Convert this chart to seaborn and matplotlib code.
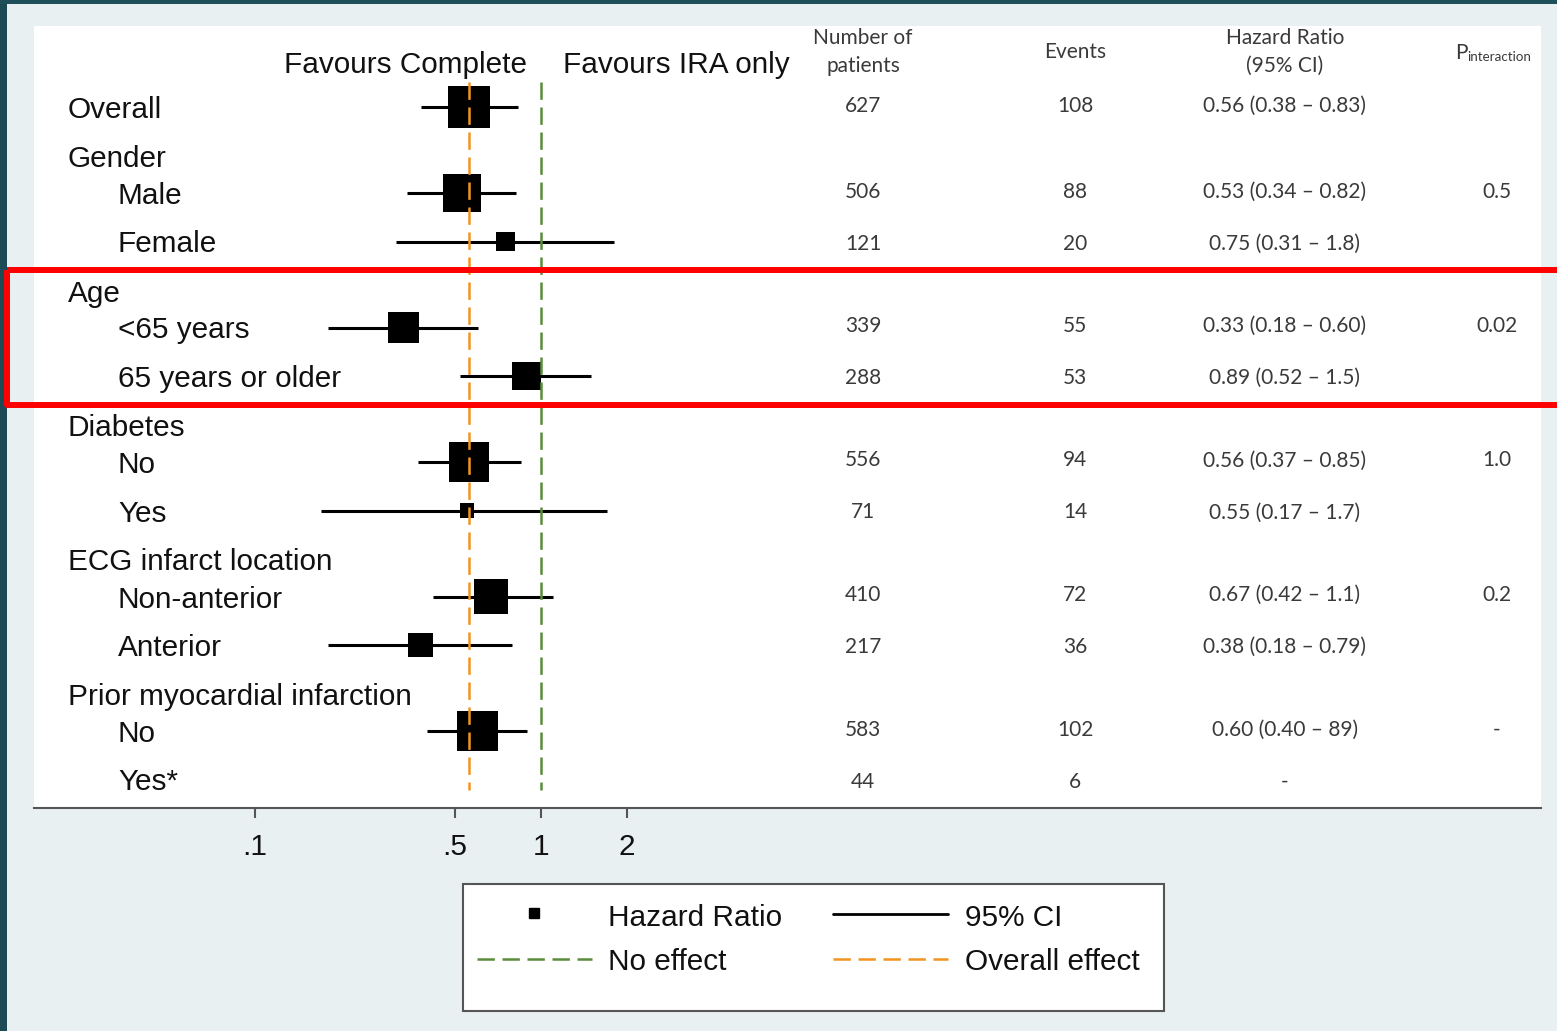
import numpy as np
import pandas as pd
import matplotlib
matplotlib.use("Agg")
import matplotlib.pyplot as plt
from matplotlib.patches import Rectangle
from matplotlib.ticker import NullLocator
import seaborn as sns

# ---------------- data ----------------
row_labels = ["Overall", "Gender", "Male", "Female", "Age", "<65 years",
              "65 years or older", "Diabetes", "No", "Yes",
              "ECG infarct location", "Non-anterior", "Anterior",
              "Prior myocardial infarction", "No", "Yes*"]
row_kind = ["item", "group", "item", "item", "group", "item", "item",
            "group", "item", "item", "group", "item", "item",
            "group", "item", "item"]
row_indent = [0, 0, 1, 1, 0, 1, 1, 0, 1, 1, 0, 1, 1, 0, 1, 1]

nan = np.nan
patients = [627, nan, 506, 121, nan, 339, 288, nan, 556, 71, nan, 410, 217, nan, 583, 44]
events = [108, nan, 88, 20, nan, 55, 53, nan, 94, 14, nan, 72, 36, nan, 102, 6]
hazard_ratio = [0.56, nan, 0.53, 0.75, nan, 0.33, 0.89, nan, 0.56, 0.55, nan, 0.67, 0.38, nan, 0.60, nan]
ci_low = [0.38, nan, 0.34, 0.31, nan, 0.18, 0.52, nan, 0.37, 0.17, nan, 0.42, 0.18, nan, 0.40, nan]
ci_high = [0.83, nan, 0.82, 1.8, nan, 0.60, 1.5, nan, 0.85, 1.7, nan, 1.1, 0.79, nan, 0.89, nan]
hr_text = ["0.56 (0.38 \u2013 0.83)", "", "0.53 (0.34 \u2013 0.82)", "0.75 (0.31 \u2013 1.8)", "",
           "0.33 (0.18 \u2013 0.60)", "0.89 (0.52 \u2013 1.5)", "", "0.56 (0.37 \u2013 0.85)",
           "0.55 (0.17 \u2013 1.7)", "", "0.67 (0.42 \u2013 1.1)", "0.38 (0.18 \u2013 0.79)", "",
           "0.60 (0.40 \u2013 89)", "-"]
p_interaction = ["", "", "0.5", "", "", "0.02", "", "", "1.0", "", "", "0.2", "", "", "-", ""]

x_ticks = [0.1, 0.5, 1, 2]
x_tick_labels = [".1", ".5", "1", "2"]
no_effect = 1.0
overall_effect = hazard_ratio[0]

# ---------------- layout helpers ----------------
W, H = 1557, 1031
PANEL_L, PANEL_R, PANEL_T, PANEL_B = 34, 1541, 26, 808
X_ONE, DECADE = 541, 286          # pixel of HR = 1, pixels per decade

row_y = []        # vertical position of each plotted row
table_y = []      # the table columns are spaced a little wider within a group
cur = 107.0
pos_in_group = 0
for i, kind in enumerate(row_kind):
    if i > 0:
        if kind == "group":
            cur += 49
        elif row_kind[i - 1] == "group":
            cur += 37
        else:
            cur += 48.5
    if kind == "group":
        pos_in_group = 0
    else:
        pos_in_group += 1
    row_y.append(cur)
    table_y.append(cur - 3.5 + (3.5 if pos_in_group == 2 else 0))

df = pd.DataFrame({"label": row_labels, "kind": row_kind, "y": row_y,
                   "patients": patients, "events": events, "hr": hazard_ratio,
                   "lo": ci_low, "hi": ci_high})
est = df.dropna(subset=["hr"])

# ---------------- style ----------------
sns.set_theme(style="white")
plt.rcParams["font.family"] = ["Liberation Sans", "DejaVu Sans"]
plt.rcParams["lines.scale_dashes"] = False
LABEL_FS = 21.4
TABLE_FONT = ["Lato", "DejaVu Sans"]
TABLE_FS = 15
TABLE_COLOR = "#3a3a3a"
GREEN = "#5b8c3b"
ORANGE = "#f29421"
DASH = (12.5, 5.5)

fig = plt.figure(figsize=(W / 100, H / 100), dpi=100, facecolor="#e8f0f2")

ax = fig.add_axes([PANEL_L / W, 1 - PANEL_B / H,
                   (PANEL_R - PANEL_L) / W, (PANEL_B - PANEL_T) / H], zorder=1)
ax.set_facecolor("white")
ax.set_xscale("log")
ax.set_xlim(10 ** ((PANEL_L - X_ONE) / DECADE), 10 ** ((PANEL_R - X_ONE) / DECADE))
ax.set_ylim(PANEL_B, PANEL_T)

# confidence intervals
ax.hlines(est["y"], est["lo"], est["hi"], color="black", lw=2.2, zorder=2)

# hazard ratio squares, area proportional to number of patients
max_n = np.nanmax(patients)
sns.scatterplot(data=est, x="hr", y="y", size="patients",
                sizes=(0, 1.463 * max_n), size_norm=(0, max_n),
                marker="s", color="black", edgecolor="none", linewidth=0,
                legend=False, ax=ax, zorder=3)

# reference lines
ax.plot([no_effect, no_effect], [82, 790], color=GREEN, lw=1.8, dashes=DASH, zorder=4)
ax.plot([overall_effect, overall_effect], [82, 790], color=ORANGE, lw=1.8, dashes=DASH, zorder=4)

ax.set_xticks(x_ticks)
ax.set_xticklabels(x_tick_labels)
ax.xaxis.set_minor_locator(NullLocator())
ax.set_yticks([])
ax.set_xlabel("")
ax.set_ylabel("")
ax.tick_params(axis="x", bottom=True, length=7, width=1.5, color="#555555",
               pad=11, labelsize=LABEL_FS, labelcolor="#111111")
for side in ["top", "left", "right"]:
    ax.spines[side].set_visible(False)
ax.spines["bottom"].set_color("#555555")
ax.spines["bottom"].set_linewidth(1.5)

# ---------------- overlay for text, frame, legend ----------------
ov = fig.add_axes([0, 0, 1, 1], zorder=5)
ov.set_xlim(0, W)
ov.set_ylim(H, 0)
ov.axis("off")
ov.patch.set_alpha(0)

ov.add_patch(Rectangle((0, 0), 7, H, color="#1c4a55", lw=0))
ov.add_patch(Rectangle((0, 0), W, 3.5, color="#1f4f5a", lw=0))

ov.text(527, 73, "Favours Complete", ha="right", va="baseline", fontsize=LABEL_FS, color="#111111")
ov.text(563, 73, "Favours IRA only", ha="left", va="baseline", fontsize=LABEL_FS, color="#111111")

for lab, kind, indent, y in zip(row_labels, row_kind, row_indent, row_y):
    x = 118 if indent else 68
    ov.text(x, y + 11, lab, ha="left", va="baseline", fontsize=LABEL_FS, color="#111111")

# table columns
COL_N, COL_E, COL_HR, COL_P = 863, 1075, 1285, 1497
tkw = dict(ha="center", va="baseline", fontsize=TABLE_FS, family=TABLE_FONT, color=TABLE_COLOR)
ov.text(COL_N, 44, "Number of", **tkw)
ov.text(COL_N, 72, "patients", **tkw)
ov.text(COL_E, 58, "Events", **tkw)
ov.text(COL_HR, 44, "Hazard Ratio", **tkw)
ov.text(COL_HR, 72, "(95% CI)", **tkw)
ov.text(1455, 59, "P", ha="left", va="baseline", fontsize=TABLE_FS, family=TABLE_FONT, color=TABLE_COLOR)
ov.text(1467, 61, "interaction", ha="left", va="baseline", fontsize=9.6, family=TABLE_FONT, color=TABLE_COLOR)

for y, n, e, h, p in zip(table_y, patients, events, hr_text, p_interaction):
    base = y + 8
    if not np.isnan(n):
        ov.text(COL_N, base, f"{int(n)}", **tkw)
    if not np.isnan(e):
        ov.text(COL_E, base, f"{int(e)}", **tkw)
    if h:
        ov.text(COL_HR, base, h, **tkw)
    if p:
        ov.text(COL_P, base, p, **tkw)

# highlight of the age subgroup
ov.add_patch(Rectangle((7.5, 270), 1600, 134.5, fill=False, ec="#ff0000", lw=4.3,
                       joinstyle="round", clip_on=False))

# legend
ov.add_patch(Rectangle((463, 884), 701, 127, fc="white", ec="#555555", lw=1.5))
ov.plot([534], [913], marker="s", ms=6.5, color="black", lw=0)
ov.plot([833, 948], [914, 914], color="black", lw=2)
ov.plot([477, 592], [959, 959], color=GREEN, lw=1.8, dashes=DASH)
ov.plot([833, 948], [959, 959], color=ORANGE, lw=1.8, dashes=DASH)
lkw = dict(ha="left", va="baseline", fontsize=LABEL_FS, color="#111111")
ov.text(608, 926, "Hazard Ratio", **lkw)
ov.text(965, 926, "95% CI", **lkw)
ov.text(608, 970, "No effect", **lkw)
ov.text(965, 970, "Overall effect", **lkw)

fig.savefig("out.png", dpi=100, facecolor=fig.get_facecolor())
